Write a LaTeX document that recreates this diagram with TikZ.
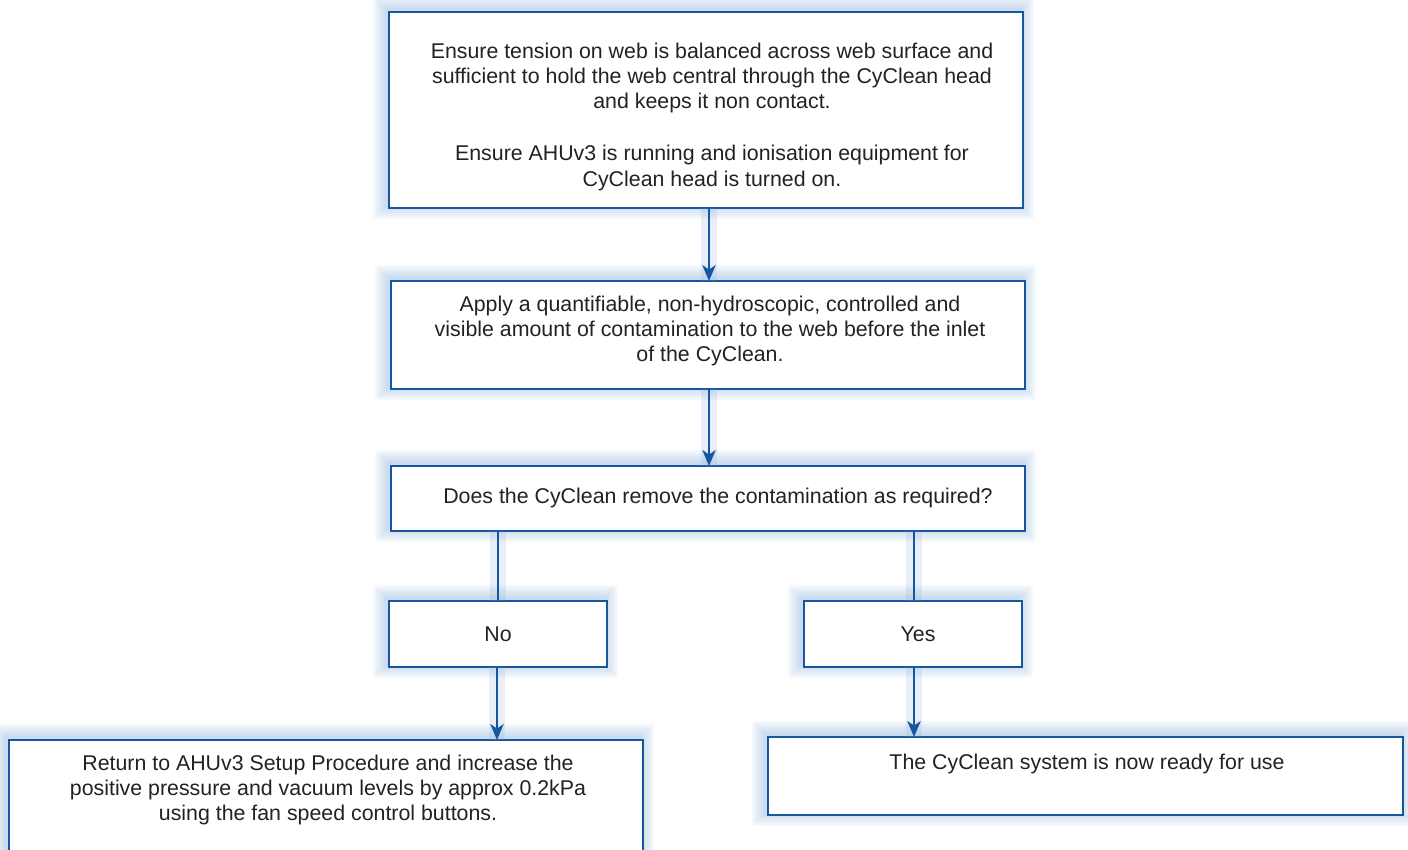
\documentclass[tikz,border=0pt]{standalone}
\usepackage{fontspec}
\setmainfont{Liberation Sans}
\usetikzlibrary{arrows.meta}
\definecolor{bord}{HTML}{1556A0}
\definecolor{glow}{HTML}{7FA6D6}
\definecolor{txt}{HTML}{222222}
\tikzset{
  px/.style={x=0.02cm,y=-0.02cm},
  box/.style={draw=bord, line width=1.5pt, fill=white},
  glowlayer/.style={fill=glow, fill opacity=0.055, draw=none},
  lbl/.style={text=txt, align=center, font=\fontsize{12.15pt}{14.45pt}\selectfont, inner sep=0pt},
  conn/.style={draw=bord, line width=1.5pt},
  arr/.style={conn, -{Stealth[length=9pt,width=7.5pt,inset=2.5pt]}},
  halo/.style={draw=glow, line width=9pt, opacity=0.18}
}
\newcommand{\gbox}[4]{%
  \foreach \k in {1,...,9}{\path[glowlayer] (#1-\k*1.6-2,#2-\k*1.6-2) rectangle (#3+\k*1.6-3,#4+\k*1.6-3);}
  \path[box] (#1,#2) rectangle (#3,#4);}
\begin{document}
\begin{tikzpicture}[px]
\useasboundingbox (0,0) rectangle (1408,849);
\clip (0,0) rectangle (1408,849);
% boxes
\gbox{389}{12}{1023}{208}
\gbox{391}{281}{1025}{389}
\gbox{391}{466}{1025}{531}
\gbox{389}{601}{607}{667}
\gbox{804}{601}{1022}{667}
\gbox{9}{740}{643}{870}
\gbox{768}{737}{1403}{815}
% anchor points
\coordinate (b1s) at (709,208);
\coordinate (b2n) at (709,281);
\coordinate (b2s) at (709,389);
\coordinate (b3n) at (709,466);
\coordinate (b3sl) at (498,531);
\coordinate (b3sr) at (914,531);
\coordinate (non) at (498,601);
\coordinate (nos) at (497,667);
\coordinate (yesn) at (914,601);
\coordinate (yess) at (914,667);
\coordinate (retn) at (497,740);
\coordinate (rdyn) at (914,737);
% texts
\node[lbl] (t1) at (712,78) {Ensure tension on web is balanced across web surface and\\sufficient to hold the web central through the CyClean head\\and keeps it non contact.};
\node[lbl] (t1b) at (712,168) {Ensure AHUv3 is running and ionisation equipment for\\CyClean head is turned on.};
\node[lbl] (t2) at (710,331) {Apply a quantifiable, non-hydroscopic, controlled and\\visible amount of contamination to the web before the inlet\\of the CyClean.};
\node[lbl] (t3) at (718,498) {Does the CyClean remove the contamination as required?};
\node[lbl] (tno) at (498,634) {No};
\node[lbl] (tyes) at (918,634) {Yes};
\node[lbl] (tret) at (328,790) {Return to AHUv3 Setup Procedure and increase the\\positive pressure and vacuum levels by approx 0.2kPa\\using the fan speed control buttons.};
\node[lbl] (trdy) at (1087,764) {The CyClean system is now ready for use};
% connectors
\path[halo] (b1s) -- (b2n) (b2s) -- (b3n) (b3sl) -- (non) (b3sr) -- (yesn) (nos) -- (retn) (yess) -- (rdyn);
\draw[arr] (b1s) -- (b2n);
\draw[arr] (b2s) -- (b3n);
\draw[conn] (b3sl) -- (non);
\draw[conn] (b3sr) -- (yesn);
\draw[arr] (nos) -- (retn);
\draw[arr] (yess) -- (rdyn);
\end{tikzpicture}
\end{document}
